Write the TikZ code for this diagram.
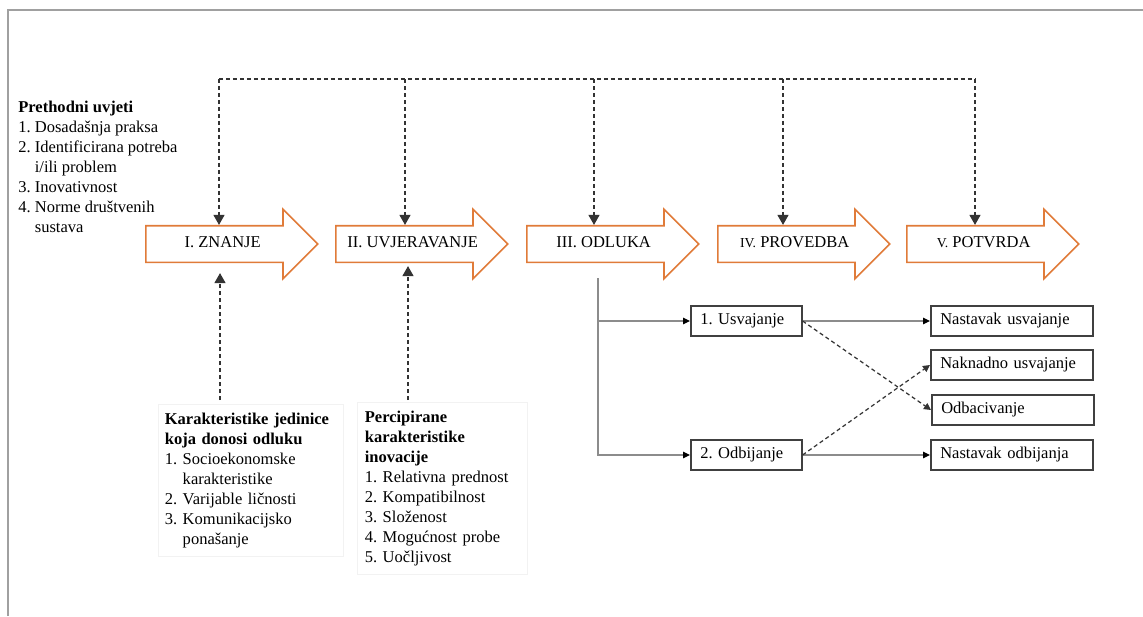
\documentclass[tikz,border=0pt]{standalone}
\usepackage{fontspec}
\setmainfont{Liberation Serif}
\usepackage{tikz}
\usetikzlibrary{shapes,arrows.meta,positioning}

\definecolor{stageorange}{RGB}{224,123,57}
\definecolor{framegray}{RGB}{160,160,160}
\frenchspacing

\begin{document}
\begin{tikzpicture}[x=0.02cm, y=-0.02cm,
  every node/.style={font=\fontsize{9.4}{11.4}\selectfont},
  stage/.style={single arrow, draw=stageorange, line width=0.9pt, single arrow head extend=0.33cm,
    single arrow tip angle=90, minimum height=3.44cm, inner xsep=0pt, inner ysep=0.2cm,
    text height=0.22cm, text depth=0.08cm, anchor=tail},
  outcome/.style={draw=black!75, line width=0.9pt, minimum height=0.6cm, inner ysep=0pt,
    inner xsep=0.19cm, align=left, anchor=west},
  listbox/.style={draw=black!5, inner xsep=0.15cm, inner ysep=0.17cm, align=left, anchor=north west},
  dashline/.style={dash pattern=on 0.08cm off 0.06cm, black!80, line width=0.7pt},
  bigtip/.style={-{Triangle[length=0.2cm,width=0.22cm]}},
  smalltip/.style={-{Triangle[length=0.14cm,width=0.14cm]}},
  conn/.style={black!45, line width=0.7pt, -{Triangle[length=0.14cm,width=0.13cm,color=black]}}
]
\useasboundingbox (0,0) rectangle (1143,616);
% frame of the screenshot
\draw[framegray, line width=0.8pt] (8,616) -- (8,10) -- (1143,10);

% stages
\node[stage] (s1) at (145,244) {I. ZNANJE};
\node[stage] (s2) at (335,244) {II. UVJERAVANJE};
\node[stage] (s3) at (526,244) {III. ODLUKA};
\node[stage] (s4) at (717,244) {{\fontsize{7.8}{9}\selectfont IV.} PROVEDBA};
\node[stage] (s5) at (906,244) {{\fontsize{7.8}{9}\selectfont V.} POTVRDA};

% prior conditions
\node[anchor=north west, inner sep=0pt, align=left] (pre) at (18,101)
  {\textbf{Prethodni uvjeti}\\1. Dosadašnja praksa\\2. Identificirana potreba\\\hphantom{2. }i/ili problem\\3. Inovativnost\\4. Norme društvenih\\\hphantom{4. }sustava};

% feedback bracket on top
\coordinate (t1) at (219,79);
\coordinate (t2) at (405,79);
\coordinate (t3) at (594,79);
\coordinate (t4) at (783,79);
\coordinate (t5) at (975,79);
\draw[dashline] (t1) -- (t5);
\draw[dashline, bigtip] (t1) -- (t1 |- s1.north);
\draw[dashline, bigtip] (t2) -- (t2 |- s2.north);
\draw[dashline, bigtip] (t3) -- (t3 |- s3.north);
\draw[dashline, bigtip] (t4) -- (t4 |- s4.north);
\draw[dashline, bigtip] (t5) -- (t5 |- s5.north);

% characteristics below
\node[listbox, text width=3.44cm, inner xsep=0.13cm] (k1) at (158,404)
  {\textbf{Karakteristike jedinice}\\\textbf{koja donosi odluku}\\1. Socioekonomske\\\hphantom{1. }karakteristike\\2. Varijable ličnosti\\3. Komunikacijsko\\\hphantom{3. }ponašanje};
\node[listbox, text width=3.1cm] (k2) at (357,402)
  {\textbf{Percipirane}\\\textbf{karakteristike}\\\textbf{inovacije}\\1. Relativna prednost\\2. Kompatibilnost\\3. Složenost\\4. Mogućnost probe\\5. Uočljivost};
\coordinate (b1) at (220,400);
\coordinate (b2) at (408,400);
\draw[dashline, bigtip, shorten >=0.2cm] (b1) -- (b1 |- s1.south);
\draw[dashline, bigtip, shorten >=0.06cm] (b2) -- (b2 |- s2.south);

% decision outcomes
\node[outcome, text width=1.84cm] (u1) at (690,321) {1. Usvajanje};
\node[outcome, text width=1.84cm] (o1) at (690,455) {2. Odbijanje};
\node[outcome, text width=2.86cm] (r1) at (930,321) {Nastavak usvajanje};
\node[outcome, text width=2.86cm] (r2) at (930,365) {Naknadno usvajanje};
\node[outcome, text width=2.86cm] (r3) at (931,410) {Odbacivanje};
\node[outcome, text width=2.86cm] (r4) at (930,455) {Nastavak odbijanja};

\coordinate (d0) at (598,278);
\draw[conn] (d0) |- (u1);
\draw[conn] (d0) |- (o1);
\draw[conn] (u1) -- (r1);
\draw[conn] (o1) -- (r4);
\draw[dashline, smalltip] (u1.east) -- (r3.west);
\draw[dashline, smalltip] (o1.east) -- (r2.west);
\end{tikzpicture}
\end{document}
